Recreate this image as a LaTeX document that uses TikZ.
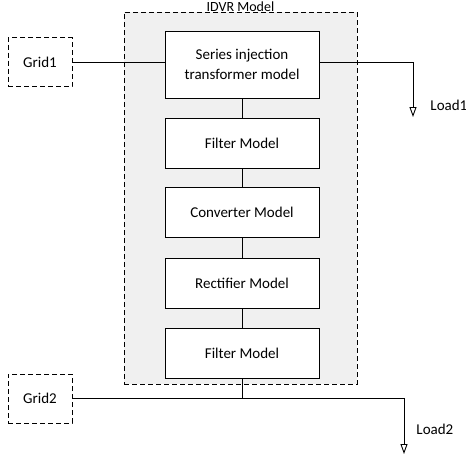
\documentclass[tikz,border=0pt]{standalone}
\usepackage{fontspec}
\setmainfont{Carlito}
\usetikzlibrary{arrows.meta}
\begin{document}
\begin{tikzpicture}[x=1pt,y=-1pt,line width=0.9pt,
  font=\fontsize{15}{20}\selectfont,
  dashbox/.style={draw,dash pattern=on 5pt off 3pt},
  block/.style={draw,fill=white,minimum width=154pt,minimum height=50pt,align=center,inner sep=0pt},
  gridbox/.style={dashbox,minimum width=64pt,minimum height=49pt,inner sep=0pt},
  load/.style={-{Triangle[open,width=7pt,length=10pt]}},
  lbl/.style={anchor=west,inner sep=0pt}]
\useasboundingbox (0,0) rectangle (466,459);
% IDVR frame
\node[dashbox,fill=black!6,minimum width=233pt,minimum height=372pt,inner sep=0pt] (idvr) at (240.5,198) {};
\node[anchor=base,inner sep=0pt,font=\fontsize{14}{16}\selectfont] (title) at (240.5,11) {IDVR Model};
% blocks
\node[block,minimum height=67pt] (sit) at (242,64.5) {Series injection\\transformer model};
\node[block] (filt1) at (242,143) {Filter Model};
\node[block] (conv) at (242,212.5) {Converter Model};
\node[block] (rect) at (242,283) {Rectifier Model};
\node[block] (filt2) at (242,353) {Filter Model};
% grids
\node[gridbox] (grid1) at (40,62) {Grid1};
\node[gridbox] (grid2) at (40,398.5) {Grid2};
% loads
\coordinate (load1) at (413,117);
\coordinate (load2) at (404,454);
\coordinate (bus) at (242,398.5);
\node[lbl] (l1) at (430,105) {Load1};
\node[lbl] (l2) at (416,429) {Load2};
% wiring
\draw (grid1.east) -- (grid1.east -| sit.west);
\draw[load] (sit.east |- grid1.east) -| (load1);
\draw (sit) -- (filt1);
\draw (filt1) -- (conv);
\draw (conv) -- (rect);
\draw (rect) -- (filt2);
\draw (filt2.south) -- (bus);
\draw[load] (grid2.east) -| (load2);
\end{tikzpicture}
\end{document}
